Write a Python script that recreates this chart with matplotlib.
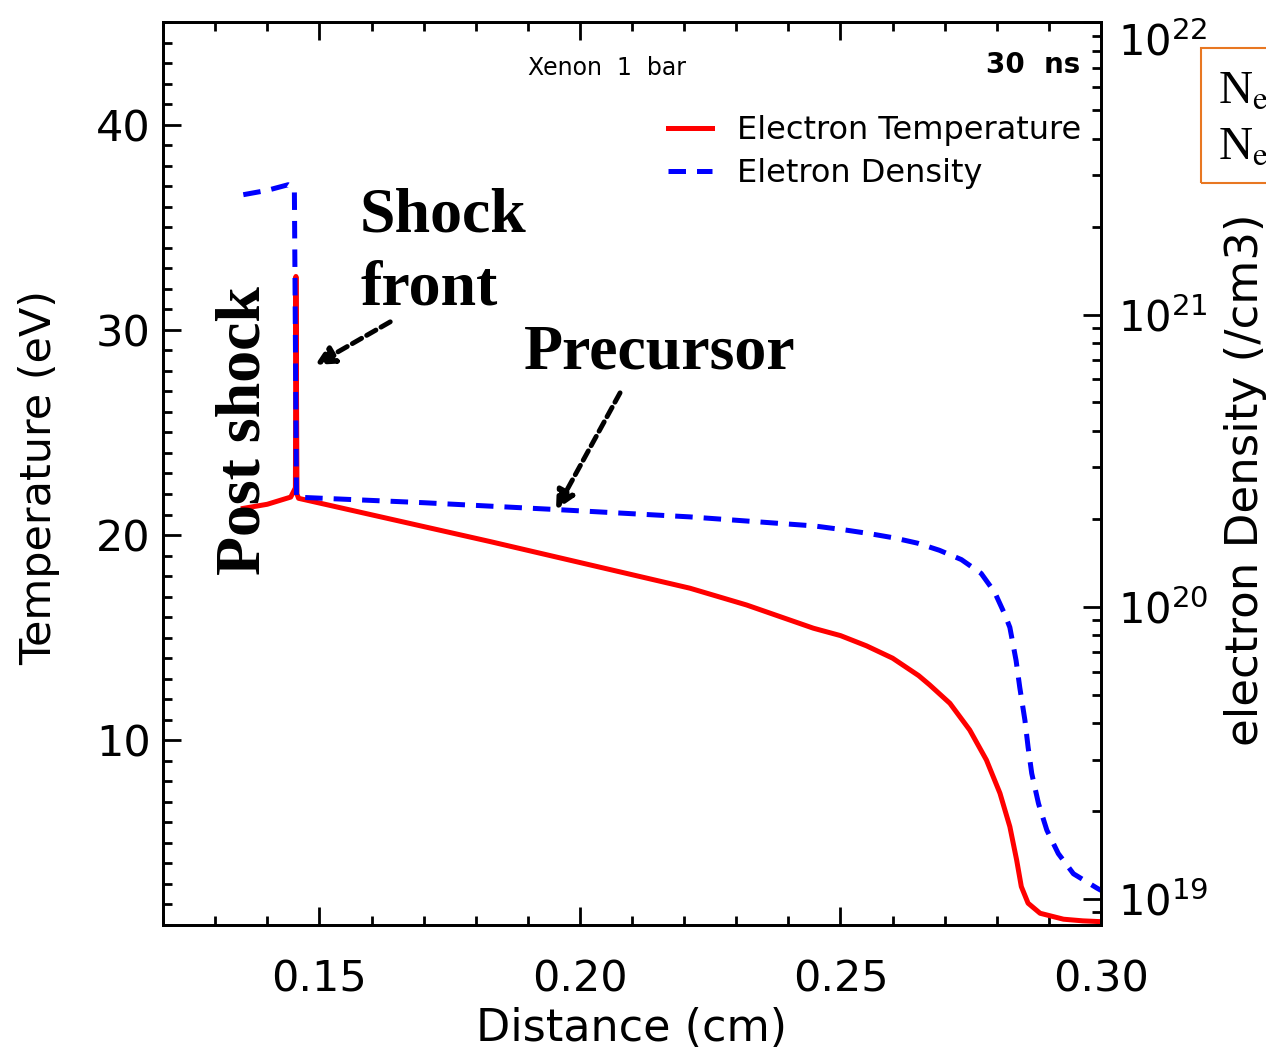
import matplotlib
matplotlib.use("Agg")
import matplotlib.pyplot as plt
from matplotlib.ticker import FixedLocator, MultipleLocator, LogLocator, NullFormatter
from matplotlib.patches import Rectangle

# --------------------------------------------------------
# DATA
# --------------------------------------------------------
dist_temp = [0.1354, 0.1400, 0.1445, 0.1450, 0.1454, 0.1455, 0.1457, 0.1460,
             0.1828, 0.2211, 0.2320, 0.2448, 0.2500, 0.2550, 0.2600, 0.2650,
             0.2671, 0.2710, 0.2748, 0.2780, 0.2806, 0.2825, 0.2838, 0.2847,
             0.2860, 0.2883, 0.2928, 0.2965, 0.3000]
temp_ev = [21.3, 21.5, 21.85, 22.1, 22.3, 32.6, 22.0, 21.79,
           19.68, 17.41, 16.59, 15.46, 15.1, 14.6, 14.0, 13.15,
           12.7, 11.8, 10.5, 9.04, 7.42, 5.79, 4.17, 2.87,
           2.06, 1.57, 1.28, 1.20, 1.16]

dist_dens = [0.1354, 0.1400, 0.1440, 0.1452, 0.1456, 0.1460, 0.1700, 0.1956,
             0.2211, 0.2450, 0.2510, 0.2555, 0.2603, 0.2648, 0.2690, 0.2732,
             0.2770, 0.2796, 0.2815, 0.2825, 0.2831, 0.2837, 0.2844, 0.2854,
             0.2860, 0.2867, 0.2880, 0.2896, 0.2918, 0.2947, 0.2992, 0.3000]
dens_cm3 = [2.57e21, 2.66e21, 2.78e21, 2.69e21, 2.37e20, 2.37e20, 2.27e20, 2.15e20,
            2.03e20, 1.89e20, 1.83e20, 1.78e20, 1.72e20, 1.65e20, 1.56e20, 1.45e20,
            1.30e20, 1.12e20, 9.44e19, 8.50e19, 7.46e19, 6.54e19, 5.30e19, 4.08e19,
            3.31e19, 2.69e19, 2.12e19, 1.72e19, 1.43e19, 1.22e19, 1.09e19, 1.07e19]

x_major = [0.15, 0.20, 0.25, 0.30]
x_labels = ["0.15", "0.20", "0.25", "0.30"]
t_major = [10, 20, 30, 40]
n_major = [1e19, 1e20, 1e21, 1e22]
n_labels = [r"$10^{19}$", r"$10^{20}$", r"$10^{21}$", r"$10^{22}$"]

# --------------------------------------------------------
# PLOT
# --------------------------------------------------------
plt.rcParams["font.family"] = ["DejaVu Sans"]
plt.rcParams["axes.linewidth"] = 2.0

fig = plt.figure(figsize=(12.66, 10.53), dpi=100)
ax = fig.add_axes([0.1288, 0.1216, 0.7409, 0.8575])
ax2 = ax.twinx()

ax.plot(dist_temp, temp_ev, color="red", lw=3.6, label="Electron Temperature")
ax2.plot(dist_dens, dens_cm3, color="blue", lw=3.6, ls=(0, (3.5, 2.2)),
         label="Eletron Density")

ax.set_xlim(0.12, 0.30)
ax.set_ylim(1, 45)
ax2.set_yscale("log")
ax2.set_ylim(8.15e18, 1.002e22)

# ticks
ax.xaxis.set_major_locator(FixedLocator(x_major))
ax.set_xticklabels(x_labels)
ax.xaxis.set_minor_locator(MultipleLocator(0.01))
ax.yaxis.set_major_locator(FixedLocator(t_major))
ax.yaxis.set_minor_locator(MultipleLocator(1))
ax.tick_params(which="both", direction="in", top=True, right=False, width=2.0,
               labelsize=31)
ax.tick_params(which="major", length=13)
ax.tick_params(which="minor", length=6.5)
ax.tick_params(axis="x", pad=24)
ax.tick_params(axis="y", pad=9)

ax2.yaxis.set_major_locator(FixedLocator(n_major))
ax2.set_yticklabels(n_labels)
ax2.yaxis.set_minor_locator(LogLocator(base=10, subs=range(2, 10), numticks=10))
ax2.yaxis.set_minor_formatter(NullFormatter())
ax2.tick_params(which="both", direction="in", width=2.0, labelsize=30, pad=12)
ax2.tick_params(which="major", length=13)
ax2.tick_params(which="minor", length=6.5)
# top label sits a little lower, inside the figure
ax2.yaxis.get_major_ticks()[3].label2.set_verticalalignment("top")

ax.set_xlabel("Distance (cm)", fontsize=32)
ax.xaxis.set_label_coords(0.499, -0.091)
ax.set_ylabel("Temperature (eV)", fontsize=31)
ax.yaxis.set_label_coords(-0.110, 0.495)
ax2.set_ylabel("electron Density (/cm3)", fontsize=32.5)
ax2.yaxis.set_label_coords(1.131, 0.493)

# legend
h1, l1 = ax.get_legend_handles_labels()
h2, l2 = ax2.get_legend_handles_labels()
ax2.legend(h1 + h2, l1 + l2, loc="upper left", frameon=False, fontsize=23,
           bbox_to_anchor=(668 / 1266, 1 - 115 / 1053),
           bbox_transform=fig.transFigure, borderpad=0, borderaxespad=0,
           handlelength=1.375, handletextpad=0.8, labelspacing=0.375)

# labels inside the plot
ax2.text(0.4733, 0.949, "Xenon  1  bar", transform=ax.transAxes, fontsize=17,
         ha="center", va="center")
ax2.text(0.9776, 0.9524, "30  ns", transform=ax.transAxes, fontsize=20,
         ha="right", va="center", fontweight="bold")

serif = ["Liberation Serif", "DejaVu Serif"]
ax2.text(0.1578, 34.77, "Shock", transform=ax.transData, fontsize=46,
         fontweight="bold", family=serif, ha="left", va="baseline")
ax2.text(0.1578, 31.21, "front", transform=ax.transData, fontsize=46,
         fontweight="bold", family=serif, ha="left", va="baseline")
ax2.text(0.1892, 28.14, "Precursor", transform=ax.transData, fontsize=46,
         fontweight="bold", family=serif, ha="left", va="baseline")
ax2.text(0.1357, 25.1, "Post shock", transform=ax.transData, fontsize=46,
         fontweight="bold", family=serif, ha="center", va="center", rotation=90)

arrow = dict(arrowstyle="-|>", ls=(0, (2.2, 1.2)), lw=3.5, color="black",
             mutation_scale=28, shrinkA=0, shrinkB=0)
ax2.annotate("", xy=(0.1492, 28.29), xytext=(0.1636, 30.39),
             xycoords=ax.transData, textcoords=ax.transData, arrowprops=arrow)
ax2.annotate("", xy=(0.1954, 21.22), xytext=(0.2077, 26.93),
             xycoords=ax.transData, textcoords=ax.transData, arrowprops=arrow)

# orange box clipped at the right edge
fig.patches.append(Rectangle((1201 / 1266, 1 - 183 / 1053), 0.2, 135 / 1053,
                             transform=fig.transFigure, fill=False,
                             edgecolor="#E87722", lw=1.5))
fig.text(1218 / 1266, 1 - 92 / 1053, r"N$_\mathrm{e}$", fontsize=34, family=serif,
         va="center", ha="left", math_fontfamily="stix")
fig.text(1218 / 1266, 1 - 148 / 1053, r"N$_\mathrm{e}$", fontsize=34, family=serif,
         va="center", ha="left", math_fontfamily="stix")

fig.savefig("out.png", dpi=100)
